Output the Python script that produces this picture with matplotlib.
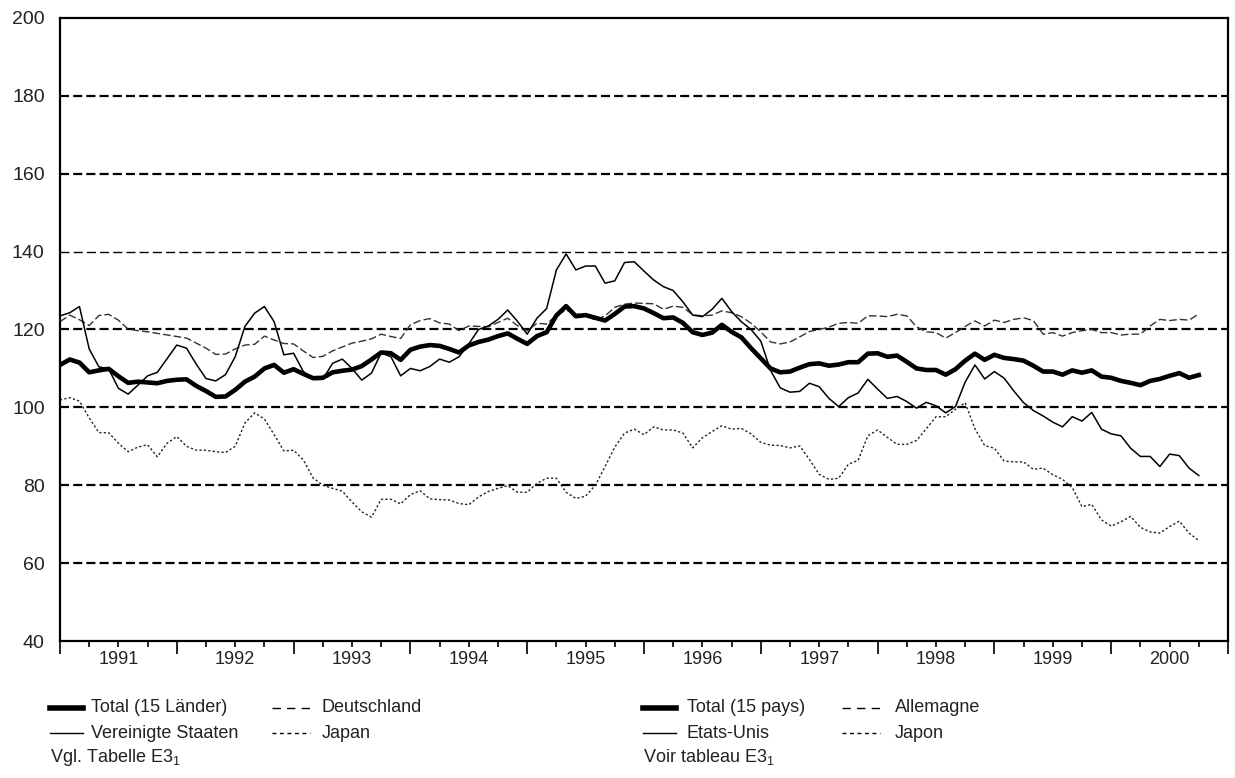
import numpy as np
import matplotlib
matplotlib.use("Agg")
import matplotlib.pyplot as plt
from matplotlib.lines import Line2D
from matplotlib.ticker import FixedLocator, FixedFormatter

plt.rcParams['font.family'] = ['Liberation Sans', 'DejaVu Sans']
plt.rcParams['mathtext.fontset'] = 'custom'
plt.rcParams['mathtext.rm'] = 'Liberation Sans'
plt.rcParams['lines.scale_dashes'] = False

# Monatswerte Jan 1991 - Okt 2000
total = [110.9, 112.3, 111.5, 109.0, 109.5, 109.9, 108.0, 106.3, 106.6, 106.4, 106.2, 106.8,
         107.1, 107.2, 105.5, 104.2, 102.7, 102.8, 104.5, 106.6, 107.9, 110.0, 110.9, 108.9,
         109.8, 108.6, 107.5, 107.6, 109.0, 109.4, 109.7, 110.6, 112.3, 114.1, 113.9, 112.2,
         114.8, 115.6, 116.0, 115.8, 115.0, 114.1, 115.9, 116.8, 117.4, 118.3, 119.0, 117.6,
         116.3, 118.3, 119.3, 123.6, 126.0, 123.4, 123.7, 123.0, 122.3, 124.0, 125.9, 126.0,
         125.4, 124.2, 122.9, 123.1, 121.7, 119.3, 118.6, 119.2, 121.2, 119.4, 118.0, 115.2,
         112.6, 110.0, 109.0, 109.2, 110.2, 111.1, 111.3, 110.7, 111.0, 111.6, 111.6, 113.8,
         113.9, 113.0, 113.3, 111.7, 110.0, 109.6, 109.6, 108.4, 109.8, 112.0, 113.8, 112.2,
         113.5, 112.7, 112.4, 112.0, 110.7, 109.2, 109.2, 108.4, 109.5, 108.9, 109.5, 107.9,
         107.6, 106.8, 106.3, 105.7, 106.8, 107.3, 108.1, 108.8, 107.6, 108.3]

usa = [123.5, 124.3, 125.9, 115.0, 110.4, 109.9, 104.9, 103.4, 105.7, 108.1, 109.0, 112.5,
       116.0, 115.2, 111.1, 107.4, 106.8, 108.4, 113.0, 120.8, 124.2, 125.9, 122.0, 113.5,
       113.9, 109.2, 107.2, 107.2, 111.3, 112.4, 110.0, 107.0, 108.8, 114.0, 113.0, 108.1,
       110.0, 109.4, 110.5, 112.4, 111.6, 113.0, 116.3, 120.0, 120.9, 122.6, 125.0, 122.1,
       118.8, 122.9, 125.4, 135.3, 139.4, 135.3, 136.3, 136.3, 131.9, 132.5, 137.2, 137.4,
       135.0, 132.7, 131.0, 130.0, 127.1, 123.7, 123.3, 125.2, 128.0, 124.6, 122.0, 120.0,
       117.0, 109.5, 105.0, 103.9, 104.1, 106.2, 105.3, 102.3, 100.2, 102.5, 103.7, 107.2,
       104.7, 102.3, 102.8, 101.5, 99.8, 101.3, 100.4, 98.6, 100.2, 106.5, 110.9, 107.3,
       109.2, 107.5, 104.2, 101.2, 99.2, 97.8, 96.2, 95.0, 97.6, 96.5, 98.7, 94.4,
       93.2, 92.7, 89.5, 87.4, 87.4, 84.8, 88.0, 87.6, 84.4, 82.5]

deutschland = [122.0, 123.7, 122.5, 121.0, 123.6, 123.9, 122.4, 120.1, 119.7, 119.4, 119.0, 118.6,
               118.2, 117.8, 116.5, 115.2, 113.6, 113.7, 115.0, 116.0, 116.2, 118.3, 117.3, 116.4,
               116.3, 114.5, 112.8, 113.1, 114.5, 115.5, 116.5, 117.0, 117.6, 118.8, 118.2, 117.7,
               121.2, 122.3, 122.8, 121.7, 121.4, 119.7, 120.9, 120.8, 120.7, 121.8, 122.9, 121.0,
               119.7, 121.6, 121.4, 123.7, 125.0, 124.0, 123.7, 122.4, 123.5, 125.7, 126.5, 126.8,
               126.7, 126.6, 125.2, 126.0, 125.7, 123.8, 123.5, 123.7, 124.8, 124.3, 123.3, 121.6,
               119.4, 116.8, 116.3, 116.8, 118.1, 119.5, 120.0, 120.6, 121.6, 121.8, 121.6, 123.5,
               123.5, 123.3, 123.9, 123.5, 120.7, 119.4, 119.2, 117.8, 119.2, 120.8, 122.2, 120.9,
               122.4, 121.8, 122.6, 123.0, 122.3, 118.8, 119.2, 118.3, 119.2, 119.7, 120.0, 119.2,
               119.2, 118.6, 118.8, 118.8, 120.9, 122.6, 122.3, 122.6, 122.4, 124.0]

japan = [101.9, 102.5, 101.6, 97.3, 93.5, 93.5, 90.8, 88.6, 89.8, 90.4, 87.3, 90.8,
         92.5, 90.0, 89.0, 89.0, 88.6, 88.4, 90.0, 96.0, 98.6, 97.0, 93.0, 88.8,
         89.0, 86.5, 81.9, 80.0, 79.2, 78.5, 75.7, 73.2, 71.8, 76.4, 76.4, 75.2,
         77.6, 78.6, 76.5, 76.3, 76.2, 75.3, 75.0, 77.0, 78.4, 79.2, 79.9, 78.2,
         78.2, 80.5, 81.8, 81.8, 78.2, 76.6, 77.2, 80.0, 84.8, 89.8, 93.4, 94.4,
         93.0, 95.0, 94.2, 94.2, 93.4, 89.6, 92.2, 93.8, 95.3, 94.4, 94.6, 93.2,
         91.0, 90.3, 90.2, 89.6, 90.1, 86.6, 82.8, 81.5, 81.8, 85.4, 86.4, 92.7,
         94.2, 92.3, 90.5, 90.5, 91.5, 94.5, 97.6, 97.6, 99.5, 101.2, 94.5, 90.2,
         89.5, 86.2, 86.0, 86.0, 84.1, 84.4, 82.7, 81.5, 79.4, 74.5, 75.1, 71.1,
         69.5, 70.6, 72.0, 69.2, 68.0, 67.7, 69.4, 70.8, 67.7, 65.8]

jahre = list(range(1991, 2001))
yticks = [40, 60, 80, 100, 120, 140, 160, 180, 200]

# x-Position der Monate (Dezimaljahr)
x = 1991 + np.arange(len(total)) / 12.0

fig = plt.figure(figsize=(12.35, 7.78), dpi=100)
ax = fig.add_axes([60/1235, 1-641/778, 1168/1235, 623/778])

# gestrichelte Hilfslinien
for g in yticks[1:-1]:
    lw = 1.0 if g == 140 else 1.6
    ax.axhline(g, color='black', lw=lw, ls=(0, (6.5, 3.0)), zorder=1)

ax.plot(x, japan, color='#222222', lw=1.0, ls=(0, (1.6, 1.6)), zorder=2)
ax.plot(x, deutschland, color='#333333', lw=1.0, ls=(0, (5.5, 2.2)), zorder=2)
ax.plot(x, usa, color='black', lw=1.1, zorder=3)
ax.plot(x, total, color='black', lw=3.3, solid_joinstyle='round', zorder=4)

ax.set_xlim(1991, 2001)
ax.set_ylim(40, 200)
ax.set_yticks(yticks)
ax.tick_params(axis='y', length=0, pad=11, labelsize=14, labelcolor='#222222')

ax.xaxis.set_major_locator(FixedLocator(list(range(1991, 2002))))
ax.xaxis.set_major_formatter(FixedFormatter([''] * 11))
minor_pos = []
minor_lab = []
for j in jahre:
    minor_pos += [j + 0.25, j + 0.5, j + 0.75]
    minor_lab += ['', str(j), '']
ax.xaxis.set_minor_locator(FixedLocator(minor_pos))
ax.xaxis.set_minor_formatter(FixedFormatter(minor_lab))
ax.tick_params(axis='x', which='major', length=9.5, width=1.2, direction='out')
ax.tick_params(axis='x', which='minor', length=4.5, width=1.2, direction='out',
               pad=3, labelsize=13, labelcolor='#222222')

for s in ax.spines.values():
    s.set_linewidth(1.6)

# Legende
def sample(x0, x1, y, **kw):
    fig.add_artist(Line2D([x0/1235, x1/1235], [1-y/778, 1-y/778], color='black', **kw))

def label(x0, y, s):
    fig.text(x0/1235, 1-y/778, s, fontsize=13, color='#222222', va='center', ha='left')

for (xs, xt, xs2, xt2, t1, t2, t3, t4, t5) in [
        (50, 91, 272, 322, 'Total (15 Länder)', 'Vereinigte Staaten', 'Deutschland', 'Japan',
         'Vgl. Tabelle E3$_{\\mathrm{1}}$'),
        (643, 687, 842, 895, 'Total (15 pays)', 'Etats-Unis', 'Allemagne', 'Japon',
         'Voir tableau E3$_{\\mathrm{1}}$')]:
    sample(xs, xs + 33, 708, lw=4)
    sample(xs, xs + 33, 733, lw=1)
    sample(xs2, xs2 + 38, 708, lw=1, ls=(0, (6, 4.5)))
    sample(xs2, xs2 + 38, 733, lw=1, ls=(0, (2.8, 2.6)))
    label(xt, 708, t1)
    label(xt, 733, t2)
    label(xt2, 708, t3)
    label(xt2, 733, t4)
    label(xs, 757, t5)

fig.savefig('out.png', dpi=100)
